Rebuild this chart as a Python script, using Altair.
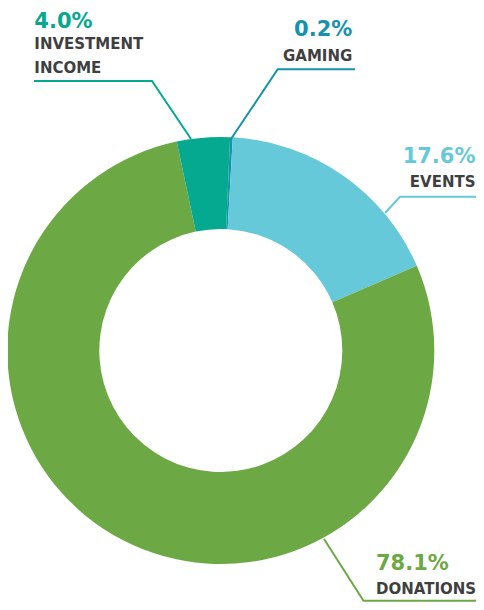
import math
import altair as alt
import pandas as pd

# ---- data ----
categories = ["Gaming", "Events", "Donations", "Investment Income"]
values = [0.2, 17.6, 78.1, 4.0]
label_lines = [["GAMING"], ["EVENTS"], ["DONATIONS"], ["INVESTMENT", "INCOME"]]
colors = ["#1592ad", "#66c9d9", "#6ca944", "#04a98f"]
pct_colors = ["#1592ad", "#66c9d9", "#6ca944", "#04a98f"]
TEXT_GRAY = "#3f3f42"

# ---- layout (chart pixel coordinates) ----
CX, CY = 212.8, 342.5
R_OUT, R_IN = 213.5, 121.5
START = math.radians(2.5)

# label anchors: (x, pct baseline y, first name baseline y, align)
label_pos = {
    "Gaming": (344.3, 28, 53, "right"),
    "Events": (467.5, 155.3, 179.3, "right"),
    "Donations": (368, 562, 586, "left"),
    "Investment Income": (26.3, 19.8, 41, "left"),
}
LINE_GAP = 23.7
leaders = {
    "Gaming": [(347, 61.3), (269.7, 61.3), (223, 131)],
    "Events": [(468, 188.7), (392, 188.7), (377, 205)],
    "Donations": [(316, 531), (355.5, 592.8), (468, 592.8)],
    "Investment Income": [(26, 73), (144, 73), (183, 131)],
}

df = pd.DataFrame({"cat": categories, "value": values, "order": range(len(categories))})

arc = alt.Chart(df).mark_arc(outerRadius=R_OUT, innerRadius=R_IN).encode(
    theta=alt.Theta("value:Q", stack=True,
                    scale=alt.Scale(range=[START, START + 2 * math.pi])),
    order=alt.Order("order:Q"),
    color=alt.Color("cat:N", scale=alt.Scale(domain=categories, range=colors), legend=None),
).encode(x=alt.value(CX), y=alt.value(CY))

# leader lines
rows = []
for c in categories:
    for i, (px, py) in enumerate(leaders[c]):
        rows.append({"cat": c, "i": i, "px": px, "py": py})
ldf = pd.DataFrame(rows)
lines = alt.Chart(ldf).mark_line(strokeWidth=2, strokeCap="butt", strokeJoin="miter").encode(
    x=alt.X("px:Q", scale=None, axis=None),
    y=alt.Y("py:Q", scale=None, axis=None),
    order="i:Q",
    detail="cat:N",
    color=alt.Color("cat:N", scale=alt.Scale(domain=categories, range=colors), legend=None),
)

# texts
pct_rows, name_rows = [], []
for c, v, names, pc in zip(categories, values, label_lines, pct_colors):
    x, py, ny, al = label_pos[c]
    pct_rows.append({"cat": c, "t": f"{v:.1f}%", "px": x, "py": py, "al": al, "col": pc})
    for k, n in enumerate(names):
        name_rows.append({"cat": c, "t": n, "px": x, "py": ny + k * LINE_GAP, "al": al})
pdf = pd.DataFrame(pct_rows)
ndf = pd.DataFrame(name_rows)

def text_layer(d, size, color_enc, align):
    return alt.Chart(d[d["al"] == align]).mark_text(
        font="DejaVu Sans", fontWeight="bold", fontSize=size, align=align, baseline="alphabetic"
    ).encode(
        x=alt.X("px:Q", scale=None, axis=None),
        y=alt.Y("py:Q", scale=None, axis=None),
        text="t:N",
        color=color_enc,
    )

pct_color = alt.Color("cat:N", scale=alt.Scale(domain=categories, range=pct_colors), legend=None)
layers = [arc, lines]
for al in ["left", "right"]:
    layers.append(text_layer(pdf, 21, pct_color, al))
    layers.append(text_layer(ndf, 15, alt.value(TEXT_GRAY), al))

chart = alt.layer(*layers).properties(
    width=468, height=594, autosize=alt.AutoSizeParams(type="none"), padding=0
).configure_view(stroke=None)

chart.save("out.html", embed_options={"renderer": "svg", "actions": False})
